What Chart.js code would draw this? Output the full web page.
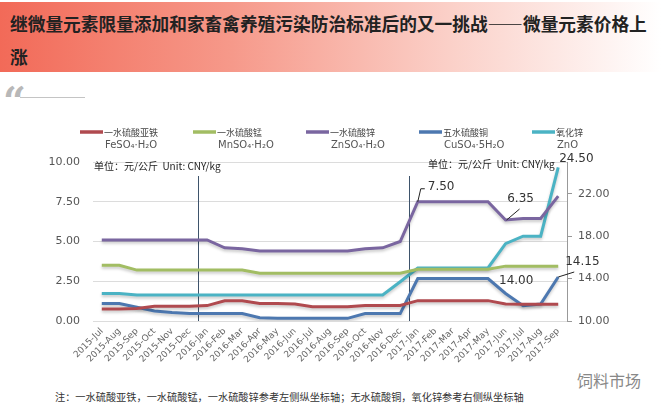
<!DOCTYPE html>
<html lang="zh">
<head>
<meta charset="UTF-8" />
<title>微量元素价格</title>
<script src="https://cdn.jsdelivr.net/npm/chart.js"></script>
<style>
  body { margin: 0; width: 661px; height: 410px; background: #fff; position: relative; overflow: hidden; font-family: "Noto Sans CJK SC", sans-serif; }
  .title { position: absolute; left: 0; top: 2px; width: 661px; height: 70px;
           background: linear-gradient(to right, #f26a58 0%, #f6998a 35%, #fbd0c8 68%, #ffffff 100%); }
  .title h1 { margin: 0; padding: 5px 0 0 10px; font-size: 17.7px; line-height: 33px; font-weight: bold; color: #222; }
  .quote { position: absolute; left: 3px; top: 81px; font: bold 40px "DejaVu Serif", serif; color: #b8b8b8; line-height: 40px; }
  .quote-line { position: absolute; left: 20px; top: 97px; width: 65px; height: 1px; background: #c4c4c4; }
  .note { position: absolute; left: 55px; top: 389px; font-size: 10.2px; color: #333; white-space: nowrap; }
  .mark { position: absolute; left: 577px; top: 368px; font-size: 16px; color: #888; }
  canvas { position: absolute; left: 0; top: 0; }
</style>
</head>
<body>
  <div class="title"><h1>继微量元素限量添加和家畜禽养殖污染防治标准后的又一挑战——微量元素价格上<br>涨</h1></div>
  <div class="quote">“</div>
  <div class="quote-line"></div>
  <div class="note">注：一水硫酸亚铁，一水硫酸锰，一水硫酸锌参考左侧纵坐标轴；无水硫酸铜，氧化锌参考右侧纵坐标轴</div>
  <div class="mark">饲料市场</div>
  <canvas id="priceChart" width="661" height="410"></canvas>

  <script>
    const months = ['2015-Jul','2015-Aug','2015-Sep','2015-Oct','2015-Nov','2015-Dec',
      '2016-Jan','2016-Feb','2016-Mar','2016-Apr','2016-May','2016-Jun','2016-Jul','2016-Aug','2016-Sep','2016-Oct','2016-Nov','2016-Dec',
      '2017-Jan','2017-Feb','2017-Mar','2017-Apr','2017-May','2017-Jun','2017-Jul','2017-Aug','2017-Sep'];

    // left axis (元/公斤)
    const feso4 = [0.75,0.75,0.78,0.92,0.92,0.93,0.97,1.27,1.27,1.1,1.1,1.07,0.9,0.9,0.9,0.98,0.98,0.98,1.28,1.28,1.28,1.28,1.28,1.07,1.05,1.05,1.05];
    const mnso4 = [3.5,3.5,3.2,3.2,3.2,3.2,3.2,3.2,3.2,3.0,3.0,3.0,3.0,3.0,3.0,3.0,3.0,3.0,3.25,3.25,3.25,3.25,3.25,3.45,3.45,3.45,3.45];
    const znso4 = [5.1,5.1,5.1,5.1,5.1,5.1,5.1,4.6,4.55,4.4,4.4,4.4,4.4,4.4,4.4,4.55,4.6,5.0,7.5,7.5,7.5,7.5,7.5,6.35,6.45,6.45,7.85];
    // right axis (元/公斤)
    const cuso4 = [11.65,11.65,11.3,10.95,10.8,10.7,10.7,10.7,10.7,10.3,10.25,10.25,10.25,10.25,10.25,10.7,10.7,10.7,14.0,14.0,14.0,14.0,14.0,12.6,11.45,11.6,14.15];
    const zno = [12.6,12.6,12.45,12.45,12.45,12.45,12.45,12.45,12.45,12.45,12.45,12.45,12.45,12.45,12.45,12.45,12.45,13.7,15.0,15.0,15.0,15.0,15.0,17.3,18.0,18.0,24.5];

    const leftTicks = [0, 2.5, 5, 7.5, 10];
    const rightTicks = [10, 14, 18, 22];
    const seriesNames = ['一水硫酸亚铁', '一水硫酸锰', '一水硫酸锌', '五水硫酸铜', '氧化锌'];
    const formulas = ['FeSO₄·H₂O', 'MnSO₄·H₂O', 'ZnSO₄·H₂O', 'CuSO₄·5H₂O', 'ZnO'];
    const yearStarts = ['2016-Jan', '2017-Jan'];
    const unitText = '单位：元/公斤  Unit: CNY/kg';

    const colors = ['#b04a4f', '#a2bd63', '#7a66a0', '#4d78b0', '#4bb3c4'];
    const numFont = '"DejaVu Sans", sans-serif';
    const cjkFont = '"Noto Sans CJK SC", sans-serif';

    const extras = {
      id: 'extras',
      beforeDatasetsDraw(chart) {
        const { ctx, chartArea, scales: { x } } = chart;
        ctx.save();
        ctx.strokeStyle = '#3e536b';
        ctx.lineWidth = 1;
        yearStarts.forEach(m => {
          const px = Math.round(x.getPixelForValue(months.indexOf(m) - 0.5)) + 0.5;
          ctx.beginPath();
          ctx.moveTo(px, chartArea.top + 14);
          ctx.lineTo(px, chartArea.bottom);
          ctx.stroke();
        });
        ctx.restore();
      },
      beforeDatasetDraw(chart) {
        const ctx = chart.ctx;
        ctx.save();
        ctx.shadowColor = 'rgba(0,0,0,0.22)';
        ctx.shadowBlur = 3;
        ctx.shadowOffsetY = 2;
      },
      afterDatasetDraw(chart) {
        chart.ctx.restore();
      },
      afterDraw(chart) {
        const { ctx, scales: { x } } = chart;
        ctx.save();

        // legend
        seriesNames.forEach((name, i) => {
          const lx = 80 + i * 113;
          ctx.strokeStyle = chart.data.datasets[i].borderColor;
          ctx.lineWidth = 3.5;
          ctx.beginPath();
          ctx.moveTo(lx, 132);
          ctx.lineTo(lx + 23, 132);
          ctx.stroke();
          ctx.fillStyle = '#444';
          ctx.textBaseline = 'middle';
          ctx.textAlign = 'left';
          ctx.font = '9px ' + cjkFont;
          ctx.fillText(name, lx + 24, 133);
          ctx.fillStyle = '#555';
          ctx.font = '10px ' + numFont;
          ctx.fillText(formulas[i], lx + 25, 145);
        });

        // unit labels
        ctx.fillStyle = '#222';
        ctx.font = '10px ' + cjkFont;
        ctx.fillText(unitText, 94, 166);
        ctx.fillText(unitText, 428, 164);

        // value callouts
        const pt = (arr, m, axis) => {
          const i = months.indexOf(m);
          return { x: x.getPixelForValue(i), y: chart.scales[axis].getPixelForValue(arr[i]), v: arr[i].toFixed(2) };
        };
        const seg = pts => {
          ctx.beginPath();
          ctx.moveTo(pts[0][0], pts[0][1]);
          pts.slice(1).forEach(p => ctx.lineTo(p[0], p[1]));
          ctx.stroke();
        };
        ctx.strokeStyle = '#222';
        ctx.lineWidth = 1;
        ctx.fillStyle = '#333';
        ctx.font = '12px ' + numFont;

        let p = pt(znso4, '2017-Jan', 'y');
        seg([[p.x, p.y], [p.x + 3, p.y - 13], [p.x + 7, p.y - 13]]);
        ctx.fillText(p.v, p.x + 10, p.y - 15);

        p = pt(znso4, '2017-Jun', 'y');
        seg([[p.x + 1, p.y], [p.x + 14, p.y - 11]]);
        ctx.textAlign = 'center';
        ctx.fillText(p.v, p.x + 15, p.y - 21);

        ctx.textAlign = 'left';
        p = pt(cuso4, '2017-May', 'y1');
        ctx.fillText(p.v, p.x + 11, p.y + 2);

        p = pt(cuso4, '2017-Sep', 'y1');
        seg([[p.x, p.y], [p.x + 16, p.y - 5]]);
        ctx.fillText(p.v, p.x + 7, p.y - 15);

        p = pt(zno, '2017-Sep', 'y1');
        ctx.fillText(p.v, p.x + 1, p.y - 8);

        ctx.restore();
      }
    };

    const mk = (label, data, i, axis) => ({
      label, data, yAxisID: axis,
      borderColor: colors[i], backgroundColor: colors[i],
      borderWidth: 3, pointRadius: 0, tension: 0, fill: false
    });

    new Chart(document.getElementById('priceChart'), {
      type: 'line',
      data: {
        labels: months,
        datasets: [
          mk(seriesNames[0], feso4, 0, 'y'),
          mk(seriesNames[1], mnso4, 1, 'y'),
          mk(seriesNames[2], znso4, 2, 'y'),
          mk(seriesNames[3], cuso4, 3, 'y1'),
          mk(seriesNames[4], zno, 4, 'y1')
        ]
      },
      options: {
        responsive: false,
        animation: false,
        devicePixelRatio: 1,
        layout: { padding: { top: 162, left: 0, right: 0, bottom: 0 } },
        plugins: { legend: { display: false }, tooltip: { enabled: false } },
        scales: {
          x: {
            type: 'category',
            offset: true,
            grid: { display: false, drawTicks: false },
            border: { display: false },
            ticks: {
              autoSkip: false, maxRotation: 45, minRotation: 45, padding: 5,
              color: '#666', font: { family: numFont, size: 9 }
            },
            afterFit: s => { s.height = 89; }
          },
          y: {
            position: 'left',
            min: 0, max: 10,
            afterBuildTicks: s => { s.ticks = leftTicks.map(v => ({ value: v })); },
            grid: { color: '#dcdcdc', drawTicks: false },
            border: { display: false },
            ticks: {
              padding: 13, color: '#555', font: { family: numFont, size: 11 },
              callback: v => Number(v).toFixed(2)
            },
            afterFit: s => { s.width = 93; }
          },
          y1: {
            position: 'right',
            min: 10, max: 25,
            afterBuildTicks: s => { s.ticks = rightTicks.map(v => ({ value: v })); },
            grid: { drawOnChartArea: false, tickLength: 5, color: '#999' },
            border: { display: true, color: '#999' },
            ticks: {
              padding: 6, color: '#555', font: { family: numFont, size: 11 },
              callback: v => Number(v).toFixed(2)
            },
            afterFit: s => { s.width = 94; }
          }
        }
      },
      plugins: [extras]
    });
  </script>
</body>
</html>
